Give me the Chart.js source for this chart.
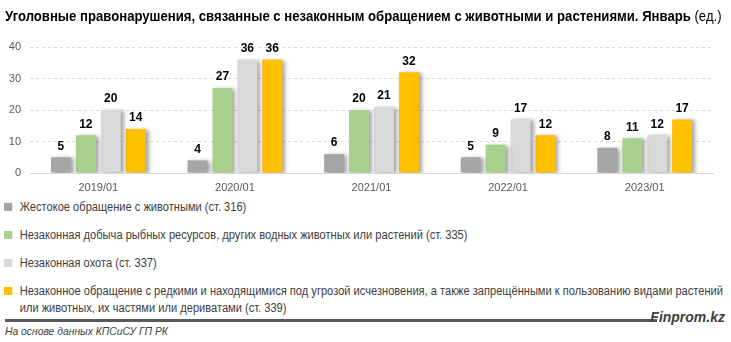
<!DOCTYPE html>
<html>
<head>
<meta charset="utf-8">
<script src="https://cdn.jsdelivr.net/npm/chart.js@4"></script>
<style>
  body { margin: 0; background: #fff; }
  #page { position: relative; width: 731px; height: 342px; overflow: hidden; font-family: "Liberation Sans", Arial, sans-serif; }
  #title { position: absolute; left: 5px; top: 7px; white-space: nowrap; font-size: 15px; font-weight: bold; color: #000; transform-origin: 0 0; }
  #title span { font-weight: normal; }
  #chartBox { position: absolute; left: 0; top: 0; width: 731px; height: 198px; }
  #legend { position: absolute; left: 4px; top: 199px; width: 792px; font-size: 12px; line-height: 17px; color: #404040; transform: scaleX(0.925); transform-origin: 0 0; }
  .item { position: relative; padding-left: 17px; margin-bottom: 11px; }
  .item i { position: absolute; left: 0; top: 4px; width: 9px; height: 8px; }
  #rule { position: absolute; left: 5px; top: 319px; width: 652px; height: 3px; background: #595959; }
  #brand { position: absolute; right: 6px; top: 309px; font-size: 14px; font-weight: bold; font-style: italic; color: #404040; }
  #source { position: absolute; left: 5px; top: 325px; font-size: 11px; font-style: italic; color: #404040; transform: scaleX(0.94); transform-origin: 0 0; }
</style>
</head>
<body>
<div id="page">
  <div id="chartBox"><canvas id="crimeChart"></canvas></div>
  <div id="title">Уголовные правонарушения, связанные с незаконным обращением с животными и растениями. Январь <span>(ед.)</span></div>
  <div id="legend"></div>
  <div id="rule"></div>
  <div id="brand">Finprom.kz</div>
  <div id="source">На основе данных КПСиСУ ГП РК</div>
</div>
<script>
const periods = ['2019/01', '2020/01', '2021/01', '2022/01', '2023/01']

const cruelty = [5, 4, 6, 5, 8]
const illegalFishing = [12, 27, 20, 9, 11]
const illegalHunting = [20, 36, 21, 17, 12]
const rareSpecies = [14, 36, 32, 12, 17]

const seriesNames = [
    'Жестокое обращение с животными (ст. 316)',
    'Незаконная добыча рыбных ресурсов, других водных животных или растений (ст. 335)',
    'Незаконная охота (ст. 337)',
    'Незаконное обращение с редкими и находящимися под угрозой исчезновения, а также запрещёнными к пользованию видами растений или животных, их частями или дериватами (ст. 339)'
]
const seriesColors = ['#A5A5A5', '#A9D18E', '#D9D9D9', '#FFC000']

// sombra de las barras
const barShadow = {
    id: 'barShadow',
    beforeDatasetsDraw(chart) {
        const ctx = chart.ctx
        ctx.save()
        ctx.shadowColor = 'rgba(0,0,0,0.35)'
        ctx.shadowBlur = 4
        ctx.shadowOffsetX = 3
        ctx.shadowOffsetY = 1
    },
    afterDatasetsDraw(chart) {
        chart.ctx.restore()
    }
}

// valores encima de las barras
const barValues = {
    id: 'barValues',
    afterDraw(chart) {
        const ctx = chart.ctx
        ctx.save()
        ctx.font = 'bold 12px "Liberation Sans", Arial, sans-serif'
        ctx.fillStyle = '#000'
        ctx.textAlign = 'center'
        ctx.textBaseline = 'bottom'
        chart.data.datasets.forEach((ds, i) => {
            chart.getDatasetMeta(i).data.forEach((bar, j) => {
                ctx.fillText(ds.data[j], bar.x, bar.y - 5)
            })
        })
        ctx.restore()
    }
}

const data = {
    labels: periods,
    datasets: [cruelty, illegalFishing, illegalHunting, rareSpecies].map((values, i) => ({
        label: seriesNames[i],
        data: values,
        backgroundColor: seriesColors[i],
        barPercentage: 0.8,
        categoryPercentage: 0.73
    }))
}

const options = {
    responsive: true,
    maintainAspectRatio: false,
    animation: false,
    layout: { padding: { top: 47, right: 18, left: 0, bottom: 0 } },
    plugins: {
        legend: { display: false },
        tooltip: { enabled: false }
    },
    scales: {
        x: {
            grid: { display: false, drawTicks: false },
            border: { display: true, color: '#D9D9D9', width: 1 },
            ticks: { color: '#595959', font: { size: 11, family: '"Liberation Sans", Arial, sans-serif' }, padding: 8 },
            afterFit: scale => { scale.height = 25 }
        },
        y: {
            min: 0,
            max: 40,
            ticks: { stepSize: 10, color: '#595959', font: { size: 11, family: '"Liberation Sans", Arial, sans-serif' }, padding: 9 },
            grid: {
                drawTicks: false,
                color: c => c.tick && c.tick.value === 0 ? 'rgba(0,0,0,0)' : '#D9D9D9'
            },
            border: { display: false, dash: [3, 3] },
            afterFit: scale => { scale.width = 30 }
        }
    }
}

new Chart('crimeChart', { type: 'bar', data, options, plugins: [barShadow, barValues] })

// leyenda
const legend = document.getElementById('legend')
seriesNames.forEach((name, i) => {
    const item = document.createElement('div')
    item.className = 'item'
    item.innerHTML = '<i style="background:' + seriesColors[i] + '"></i>' + name
    legend.appendChild(item)
})

// ajustar el titulo al ancho del original
const title = document.getElementById('title')
title.style.transform = 'scaleX(' + (717 / title.offsetWidth) + ')'
</script>
</body>
</html>
